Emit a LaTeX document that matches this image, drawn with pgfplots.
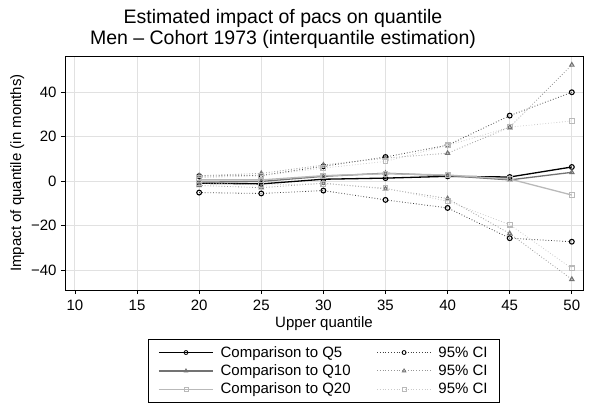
\documentclass[border=0pt]{standalone}
\usepackage{pgfplots}
\pgfplotsset{compat=1.18}
\usepackage{fontspec}
\setmainfont{Liberation Sans}
\definecolor{cQa}{RGB}{0,0,0}
\definecolor{cQb}{RGB}{115,115,115}
\definecolor{cQc}{RGB}{185,185,185}
\definecolor{gridc}{RGB}{225,225,225}
\begin{document}
\begin{tikzpicture}
\useasboundingbox (-65bp,-126bp) rectangle (525bp,290bp);
\begin{axis}[
  at={(0,0)}, anchor=south west,
  scale only axis, width=518bp, height=234bp,
  xmin=9.2, xmax=50.9, ymin=-49, ymax=56.2,
  xtick={10,15,...,50}, ytick={-40,-20,0,20,40},
  yticklabels={−40,−20,0,20,40},
  grid=major, major grid style={gridc, line width=0.9bp},
  tick align=outside, tick pos=left, major tick length=4bp,
  axis line style={line width=0.9bp},
  tick style={line width=0.7bp, black},
  /pgf/number format/assume math mode=true,
  ticklabel style={font=\fontsize{15bp}{18bp}\selectfont},
  xticklabel style={yshift=-3bp},
  yticklabel style={xshift=-1bp},
  xlabel={Upper quantile}, ylabel={Impact of quantile (in months)},
  label style={font=\fontsize{15bp}{18bp}\selectfont},
  xlabel style={yshift=1bp},
  ylabel style={yshift=0bp},
  title={Estimated impact of pacs on quantile\\Men -- Cohort 1973 (interquantile estimation)},
  title style={font=\fontsize{19.5bp}{20.5bp}\selectfont, align=center, xshift=-41bp, yshift=-2bp},
  legend columns=2,
  legend style={at={(0.5,-0.2094)}, anchor=north, draw=black, line width=0.7bp,
    font=\fontsize{15bp}{18bp}\selectfont, row sep=2bp,
    /tikz/column 1/.style={column sep=5bp},
    /tikz/column 2/.style={column sep=24bp},
    /tikz/column 3/.style={column sep=5bp},
    inner xsep=10bp, inner ysep=5bp},
  legend cell align=left,
  legend image code/.code={\draw[mark repeat=2,mark phase=2,#1,mark size=2bp, every mark/.append style={line width=0.8bp}] plot coordinates {(0bp,0bp)(27bp,0bp)(54bp,0bp)};},
  every axis plot/.append style={mark size=2.4bp},
]
% Q5
\addplot[cQa, line width=1.3bp, mark=o, mark options={solid, line width=1.1bp}] coordinates {(20,-1.0)(25,-1.3)(30,0.8)(35,1.3)(40,2.1)(45,1.8)(50,6.3)};
\addlegendentry{Comparison to Q5}
\addplot[cQa!75, dotted, line width=0.8bp, mark=o, mark options={solid, line width=1.1bp, cQa}] coordinates {(20,2.2)(25,2.5)(30,6.6)(35,10.8)(40,16.1)(45,29.4)(50,39.9)};
\addlegendentry{95\% CI}
% Q10
\addplot[cQb, line width=1.3bp, mark=triangle, mark options={solid, line width=1.1bp}] coordinates {(20,-0.5)(25,-0.2)(30,2.1)(35,3.5)(40,2.4)(45,0.5)(50,3.9)};
\addlegendentry{Comparison to Q10}
\addplot[cQb!75, dotted, line width=0.8bp, mark=triangle, mark options={solid, line width=1.1bp, cQb}] coordinates {(20,2.4)(25,3.4)(30,7.2)(35,10.3)(40,12.5)(45,24.2)(50,52.2)};
\addlegendentry{95\% CI}
% Q20
\addplot[cQc, line width=1.3bp, mark=square, mark options={solid, line width=1.1bp}] coordinates {(20,0.5)(25,0.5)(30,2.4)(35,3.3)(40,2.7)(45,0.9)(50,-6.3)};
\addlegendentry{Comparison to Q20}
\addplot[cQc!75, dotted, line width=0.8bp, mark=square, mark options={solid, line width=1.1bp, cQc}] coordinates {(20,1.5)(25,2.4)(30,5.8)(35,8.8)(40,16.0)(45,24.2)(50,27.0)};
\addlegendentry{95\% CI}
% lower CIs
\addplot[forget plot, cQa!75, dotted, line width=0.8bp, mark=o, mark options={solid, line width=1.1bp, cQa}] coordinates {(20,-5.2)(25,-5.6)(30,-4.3)(35,-8.5)(40,-12.1)(45,-25.7)(50,-27.3)};
\addplot[forget plot, cQb!75, dotted, line width=0.8bp, mark=triangle, mark options={solid, line width=1.1bp, cQb}] coordinates {(20,-2.0)(25,-3.0)(30,-1.0)(35,-3.5)(40,-7.9)(45,-23.6)(50,-44.2)};
\addplot[forget plot, cQc!75, dotted, line width=0.8bp, mark=square, mark options={solid, line width=1.1bp, cQc}] coordinates {(20,-0.8)(25,-1.8)(30,-1.2)(35,-3.2)(40,-9.1)(45,-19.6)(50,-39.3)};
\end{axis}
\end{tikzpicture}
\end{document}
